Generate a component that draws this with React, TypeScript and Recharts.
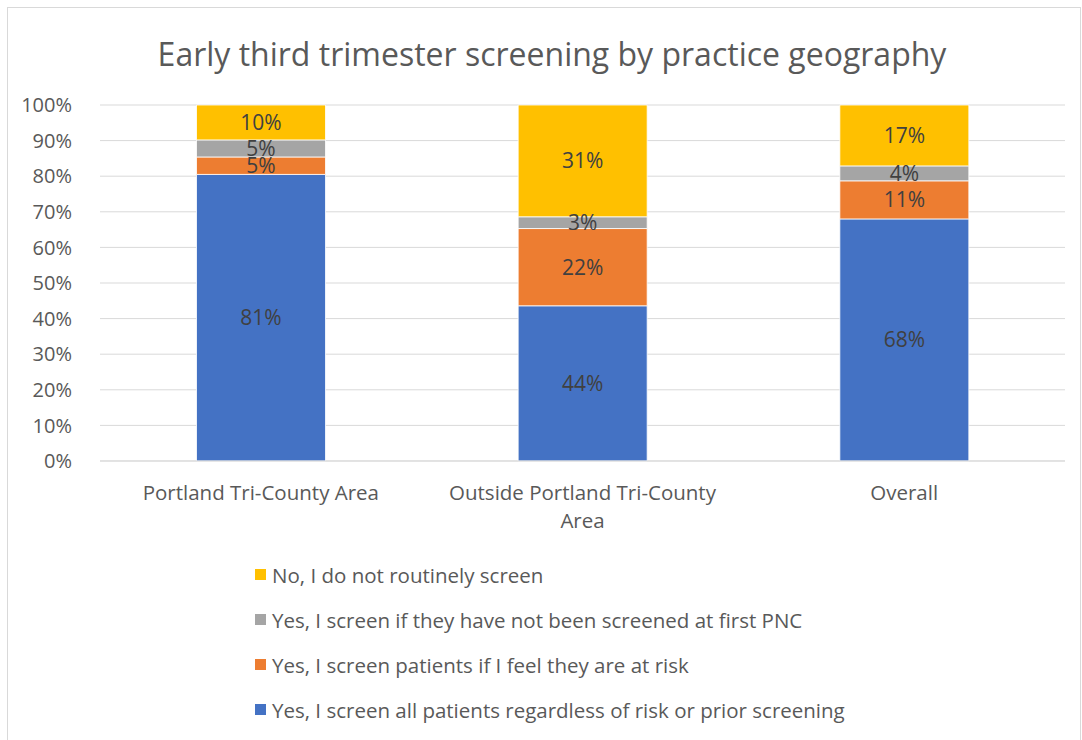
import { BarChart, Bar, XAxis, YAxis, CartesianGrid, LabelList } from 'recharts';

const categories = ['Portland Tri-County Area', 'Outside Portland Tri-County Area', 'Overall'];
const screenAll = [80.5, 43.6, 68.0];
const screenAtRisk = [4.9, 21.7, 10.7];
const screenIfNotFirst = [4.8, 3.3, 4.2];
const noScreen = [9.8, 31.4, 17.1];
const yTicks = [0, 10, 20, 30, 40, 50, 60, 70, 80, 90, 100];

const series = [
  { key: 'all', name: 'Yes, I screen all patients regardless of risk or prior screening', color: '#4472C4', values: screenAll },
  { key: 'risk', name: 'Yes, I screen patients if I feel they are at risk', color: '#ED7D31', values: screenAtRisk },
  { key: 'first', name: 'Yes, I screen if they have not been screened at first PNC', color: '#A5A5A5', values: screenIfNotFirst },
  { key: 'no', name: 'No, I do not routinely screen', color: '#FFC000', values: noScreen },
];

const data = categories.map((name, i) => {
  const row: Record<string, string | number> = { name };
  series.forEach((s) => {
    row[s.key] = s.values[i];
  });
  return row;
});

const FONT = '"Open Sans", Lato, sans-serif';

// wrap words into lines of at most maxChars characters
function wrapWords(text: string, maxChars: number) {
  const lines: string[] = [];
  let cur = '';
  text.split(' ').forEach((w) => {
    const next = cur ? `${cur} ${w}` : w;
    if (next.length > maxChars && cur) {
      lines.push(cur);
      cur = w;
    } else {
      cur = next;
    }
  });
  if (cur) lines.push(cur);
  return lines;
}

function CategoryTick(props: any) {
  const { x, y, payload } = props;
  const lines = wrapWords(String(payload.value), 28);
  return (
    <text x={x} y={y + 31} textAnchor="middle" fontSize={20.5} fill="#595959" fontFamily={FONT}>
      {lines.map((l, i) => (
        <tspan key={i} x={x} dy={i === 0 ? 0 : 28}>
          {l}
        </tspan>
      ))}
    </text>
  );
}

export default function App() {
  return (
    <div
      style={{
        position: 'absolute',
        left: 7,
        top: 7,
        width: 1072,
        height: 740,
        border: '1px solid #d9d9d9',
        background: '#fff',
        fontFamily: FONT,
      }}
    >
      <BarChart
        width={1072}
        height={560}
        data={data}
        margin={{ top: 97, right: 15, left: 0, bottom: 77 }}
        barCategoryGap="30%"
      >
        <text x={544} y={45} textAnchor="middle" dominantBaseline="central" fontSize={32} fill="#595959" fontFamily={FONT}>
          Early third trimester screening by practice geography
        </text>
        <CartesianGrid vertical={false} stroke="#d9d9d9" />
        <XAxis
          dataKey="name"
          tick={<CategoryTick />}
          tickLine={false}
          axisLine={{ stroke: '#d9d9d9' }}
          interval={0}
        />
        <YAxis
          width={92}
          domain={[0, 100]}
          ticks={yTicks}
          tickFormatter={(v: number) => `${v}%`}
          tick={{ fontSize: 20, fill: '#595959', fontFamily: FONT }}
          tickLine={false}
          axisLine={false}
          tickMargin={22}
        />
        {series.map((s) => (
          <Bar key={s.key} dataKey={s.key} name={s.name} stackId="a" fill={s.color} stroke="#fff" strokeWidth={0.8} isAnimationActive={false}>
            <LabelList
              dataKey={s.key}
              position="center"
              formatter={(v: any) => `${Math.round(Number(v))}%`}
              style={{ fontSize: 21, fill: '#404040', fontFamily: FONT }}
            />
          </Bar>
        ))}
      </BarChart>
      <div style={{ position: 'absolute', left: 247, top: 544 }}>
        {[...series].reverse().map((s) => (
          <div key={s.key} style={{ display: 'flex', alignItems: 'center', height: 45, fontSize: 20.5, color: '#595959' }}>
            <span style={{ width: 11, height: 11, background: s.color, marginRight: 6, display: 'inline-block' }} />
            {s.name}
          </div>
        ))}
      </div>
    </div>
  );
}
